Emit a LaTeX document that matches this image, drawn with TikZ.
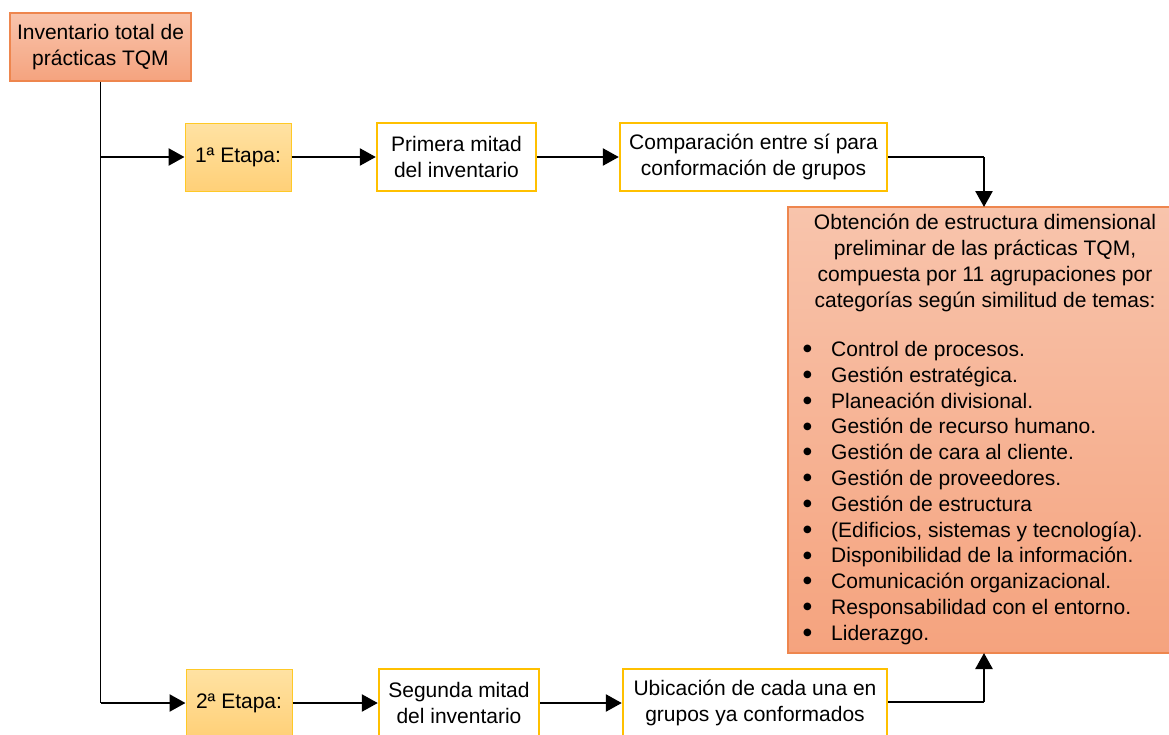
\documentclass[tikz,border=0pt]{standalone}
\usepackage{fontspec}
\setmainfont{Liberation Sans}
\newfontfamily\symfont{DejaVu Sans}
\usetikzlibrary{arrows.meta}

\definecolor{salmonTop}{RGB}{248,196,172}
\definecolor{salmonBot}{RGB}{245,163,126}
\definecolor{salmonEdge}{RGB}{238,134,78}
\definecolor{stageTop}{RGB}{255,226,163}
\definecolor{stageBot}{RGB}{255,208,120}
\definecolor{gold}{RGB}{255,192,0}

% list bullet: a solid dot centred on the capital height of the text
\newcommand{\dotmark}{\raisebox{2.3pt}{$\vcenter{\hbox{\symfont\fontsize{10}{10}\selectfont ●}}$}}
\newcommand{\itm}[1]{\makebox[28pt][l]{\dotmark}#1}

\begin{document}
\begin{tikzpicture}[x=1pt,y=-1pt,
  every node/.style={font=\fontsize{21}{25.8}\selectfont, inner sep=0pt, text=black},
  salmonbox/.style={draw=salmonEdge, line width=1.2pt, top color=salmonTop, bottom color=salmonBot},
  stagebox/.style={draw=gold!85!white, line width=1pt, top color=stageTop, bottom color=stageBot,
    minimum width=106pt, minimum height=68pt},
  whitebox/.style={draw=gold, line width=2.4pt, fill=white, align=center, minimum height=68pt},
  flow/.style={line width=2.5pt, -{Triangle[length=16pt,width=17pt]}},
  feed/.style={line width=1.4pt},
  rise/.style={line width=2.6pt, -{Triangle[length=16pt,width=17pt]}},
  trunk/.style={line width=1.5pt}
]
\clip (0,0) rectangle (1169,734);
\fill[white] (0,0) rectangle (1169,734);

% source inventory
\node[salmonbox, minimum width=181pt, minimum height=68pt, align=center] (inv) at (100.5,47)
  {Inventario total de\\prácticas TQM};

% first stage row
\node[stagebox] (e1) at (238,157) {1ª Etapa:};
\node[whitebox, minimum width=159pt] (m1) at (456.5,157) {Primera mitad\\del inventario};
\node[whitebox, minimum width=267pt] (c1) at (753.5,157) {Comparación entre sí para\\conformación de grupos};

% second stage row
\node[stagebox] (e2) at (239,703) {2ª Etapa:};
\node[whitebox, minimum width=160pt] (m2) at (459,703) {Segunda mitad\\del inventario};
\node[whitebox, minimum width=264pt] (c2) at (755,703) {Ubicación de cada una en\\grupos ya conformados};

% resulting structure
\node[salmonbox, minimum width=398pt, minimum height=446pt] (res) at (987,430) {};
\node[align=center, anchor=center] (reshead) at (985,263)
  {Obtención de estructura dimensional\\
   preliminar de las prácticas TQM,\\
   compuesta por 11 agrupaciones por\\
   categorías según similitud de temas:};
\node[align=left, anchor=west] (reslist) at (803,493)
  {\itm{Control de procesos.}\\
   \itm{Gestión estratégica.}\\
   \itm{Planeación divisional.}\\
   \itm{Gestión de recurso humano.}\\
   \itm{Gestión de cara al cliente.}\\
   \itm{Gestión de proveedores.}\\
   \itm{Gestión de estructura}\\
   \itm{(Edificios, sistemas y tecnología).}\\
   \itm{Disponibilidad de la información.}\\
   \itm{Comunicación organizacional.}\\
   \itm{Responsabilidad con el entorno.}\\
   \itm{Liderazgo.}};

\coordinate (restop) at (984,207);
\coordinate (resbot) at (984,653);
\coordinate (c1turn) at (984,157);
\coordinate (c2turn) at (984,702);

% connectors
\draw[trunk] (inv.south) -- (inv.south |- e2.west);
\draw[flow] (inv.south |- e1.west) -- (e1.west);
\draw[flow] (inv.south |- e2.west) -- (e2.west);
\draw[flow] (e1.east) -- (m1.west);
\draw[flow] (m1.east) -- (c1.west);
\draw[flow] (e2.east) -- (m2.west);
\draw[flow] (m2.east) -- (c2.west);
\draw[feed] (c1.east) -- (c1turn);
\draw[rise] (c1turn) -- (restop);
\draw[feed] (c2.east |- c2turn) -- (c2turn);
\draw[rise] (c2turn) -- (resbot);
\end{tikzpicture}
\end{document}
